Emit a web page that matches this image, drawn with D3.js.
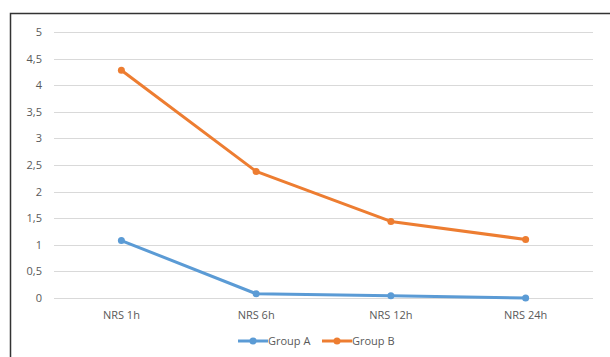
<!DOCTYPE html>
<html><head><meta charset="utf-8">
<script src="https://cdn.jsdelivr.net/npm/d3@7"></script>
<style>body{margin:0;background:#fff;} svg{display:block;}</style>
</head><body>
<svg id="c" width="610" height="357"></svg>
<script>
const categories = ["NRS 1h","NRS 6h","NRS 12h","NRS 24h"];
const groupA = [1.08, 0.08, 0.04, 0.0];
const groupB = [4.28, 2.38, 1.44, 1.10];
const seriesNames = ["Group A","Group B"];
const seriesColors = ["#5B9BD5","#ED7D31"];
const yTicks = [0,0.5,1,1.5,2,2.5,3,3.5,4,4.5,5];

const svg = d3.select("#c");
const font = "'Open Sans', 'Liberation Sans', sans-serif";
svg.append("rect").attr("x",10.5).attr("y",13.5).attr("width",620).attr("height",360)
  .attr("fill","#fff").attr("stroke","#333").attr("stroke-width",1.5);

const x = d3.scaleBand().domain(categories).range([54,593]);
const y = d3.scaleLinear().domain([0,5]).range([298,32]);

const grid = svg.append("g");
grid.selectAll("line").data(yTicks).enter().append("line")
  .attr("x1",54).attr("x2",593).attr("y1",d=>Math.round(y(d))+0.5).attr("y2",d=>Math.round(y(d))+0.5)
  .attr("stroke","#d9d9d9").attr("stroke-width",1);

const yAxis = d3.axisLeft(y).tickValues(yTicks).tickSize(0).tickPadding(12)
  .tickFormat(d=>String(d).replace(".",","));
const ya = svg.append("g").attr("transform","translate(54,0)").call(yAxis);
ya.select(".domain").remove();
ya.selectAll("text").attr("fill","#595959").style("font-family",font).style("font-size","11px");

const xAxis = d3.axisBottom(x).tickSize(0).tickPadding(13);
const xa = svg.append("g").attr("transform","translate(0,298)").call(xAxis);
xa.select(".domain").remove();
xa.selectAll("text").attr("fill","#595959").style("font-family",font).style("font-size","11px");

const cx = d => x(d) + x.bandwidth()/2;
const series = [groupA, groupB];
const line = d3.line().x((d,i)=>cx(categories[i])).y(d=>y(d));
series.forEach((s,k)=>{
  svg.append("path").datum(s).attr("d",line).attr("fill","none")
    .attr("stroke",seriesColors[k]).attr("stroke-width",3).attr("stroke-linejoin","round");
  svg.selectAll(null).data(s).enter().append("circle")
    .attr("cx",(d,i)=>cx(categories[i])).attr("cy",d=>y(d)).attr("r",3.5)
    .attr("fill",seriesColors[k]);
});

const legX = [238, 322];
seriesNames.forEach((n,k)=>{
  const g = svg.append("g").attr("transform",`translate(${legX[k]},341)`);
  g.append("line").attr("x1",0).attr("x2",30).attr("y1",0).attr("y2",0)
    .attr("stroke",seriesColors[k]).attr("stroke-width",3);
  g.append("circle").attr("cx",15).attr("cy",0).attr("r",3.5).attr("fill",seriesColors[k]);
  g.append("text").attr("x",30).attr("y",4).text(n).attr("fill","#595959")
    .style("font-family",font).style("font-size","11px");
});
</script>
</body></html>
